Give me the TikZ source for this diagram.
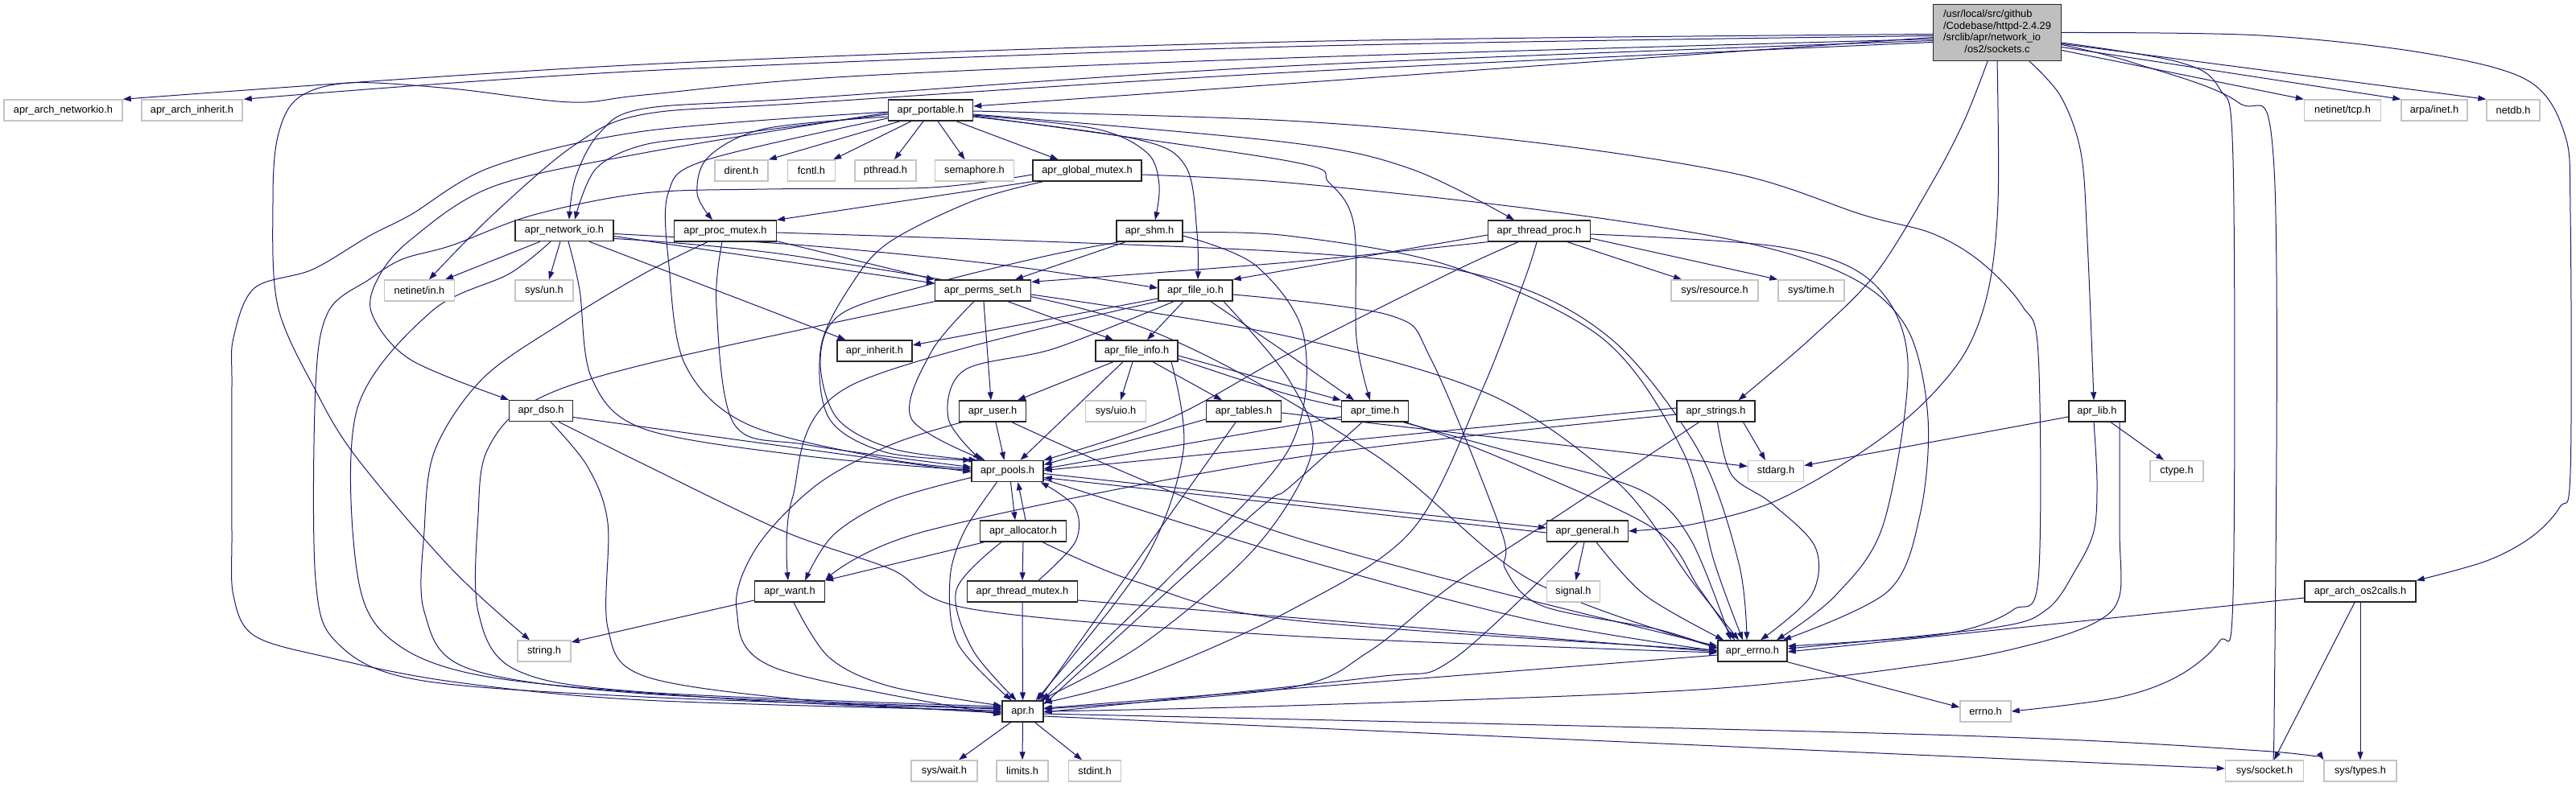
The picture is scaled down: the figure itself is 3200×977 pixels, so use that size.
\documentclass[tikz,border=0pt]{standalone}
\usepackage{fontspec}
\setmainfont{Liberation Sans}
\usetikzlibrary{arrows.meta}
\definecolor{edgec}{HTML}{191970}
\definecolor{sysb}{HTML}{C4C4C4}
\definecolor{mainf}{HTML}{BFBFBF}
\pgfdeclarelayer{bglayer}
\pgfdeclarelayer{edgelayer}
\pgfsetlayers{bglayer,edgelayer,main}
\tikzset{
  box/.style={rectangle, fill=white, line width=1.4pt, minimum height=26, inner sep=0pt, font=\fontsize{12.8}{14.7}\selectfont, text=black},
  hdr/.style={box, draw=black!85},
  sys/.style={box, draw=sysb},
  edge/.style={draw=edgec, line width=1pt, -{Triangle[length=10pt,width=7pt]}},
  sm/.style={smooth, tension=0.55},
}
\begin{document}
\begin{tikzpicture}[x=1pt,y=-1pt]
\begin{pgfonlayer}{bglayer}
\fill[white] (0,0) rectangle (3200,977);
\end{pgfonlayer}
\useasboundingbox (0,0) rectangle (3200,977);

\node[box, draw=black!85, fill=mainf, minimum width=159, minimum height=70] (main) at (2481,40.5) {\begin{tabular}{@{}l@{}}/usr/local/src/github\\/Codebase/httpd-2.4.29\\/srclib/apr/network\_io\\\multicolumn{1}{@{}c@{}}{/os2/sockets.c}\end{tabular}};
\node[sys, minimum width=147] (archnet) at (78.5,137) {apr\_arch\_networkio.h};
\node[sys, minimum width=125] (archinh) at (238.5,137) {apr\_arch\_inherit.h};
\node[hdr, minimum width=105] (portable) at (1156,137) {apr\_portable.h};
\node[sys, minimum width=95] (tcp) at (2910,137) {netinet/tcp.h};
\node[sys, minimum width=82] (arpa) at (3024,137) {arpa/inet.h};
\node[sys, minimum width=66] (netdb) at (3122,137) {netdb.h};
\node[sys, minimum width=66] (dirent) at (921,212) {dirent.h};
\node[sys, minimum width=59] (fcntl) at (1008,212) {fcntl.h};
\node[sys, minimum width=76] (pthread) at (1100,212) {pthread.h};
\node[sys, minimum width=97.5] (semaphore) at (1210.5,212) {semaphore.h};
\node[hdr, minimum width=135] (gm) at (1350.5,212) {apr\_global\_mutex.h};
\node[hdr, minimum width=122] (nio) at (701,286.5) {apr\_network\_io.h};
\node[hdr, minimum width=126.5] (pm) at (901,287) {apr\_proc\_mutex.h};
\node[hdr, minimum width=82] (shm) at (1428,287) {apr\_shm.h};
\node[hdr, minimum width=126.5] (tp) at (1912,287) {apr\_thread\_proc.h};
\node[sys, minimum width=87] (netinetin) at (521,361) {netinet/in.h};
\node[sys, minimum width=72] (sysun) at (676,361) {sys/un.h};
\node[hdr, minimum width=119] (perms) at (1221,361) {apr\_perms\_set.h};
\node[hdr, minimum width=92] (fio) at (1485,361) {apr\_file\_io.h};
\node[sys, minimum width=108] (sysres) at (2130,361) {sys/resource.h};
\node[sys, minimum width=82] (systime) at (2250,361) {sys/time.h};
\node[hdr, minimum width=93] (inherit) at (1086.5,436) {apr\_inherit.h};
\node[hdr, minimum width=102] (fi) at (1412,436) {apr\_file\_info.h};
\node[hdr, minimum width=78.5] (dso) at (672,510.5) {apr\_dso.h};
\node[hdr, minimum width=83] (user) at (1233,511) {apr\_user.h};
\node[sys, minimum width=74.5] (sysuio) at (1386,511) {sys/uio.h};
\node[hdr, minimum width=93] (tables) at (1545,511) {apr\_tables.h};
\node[hdr, minimum width=83] (time) at (1708,511) {apr\_time.h};
\node[hdr, minimum width=97] (strings) at (2131.5,511) {apr\_strings.h};
\node[hdr, minimum width=70] (lib) at (2605,511) {apr\_lib.h};
\node[hdr, minimum width=89] (pools) at (1251.5,585.5) {apr\_pools.h};
\node[sys, minimum width=69] (stdarg) at (2206,585.5) {stdarg.h};
\node[sys, minimum width=66] (ctype) at (2704,585.5) {ctype.h};
\node[hdr, minimum width=107] (alloc) at (1271,660) {apr\_allocator.h};
\node[hdr, minimum width=100.5] (general) at (1972,660) {apr\_general.h};
\node[hdr, minimum width=87] (want) at (981,735) {apr\_want.h};
\node[hdr, minimum width=137] (tm) at (1270,735) {apr\_thread\_mutex.h};
\node[sys, minimum width=66] (signal) at (1954.5,735) {signal.h};
\node[hdr, minimum width=138] (os2) at (2932,735) {apr\_arch\_os2calls.h};
\node[sys, minimum width=66] (string) at (676,809) {string.h};
\node[hdr, minimum width=86] (errno) at (2177,809) {apr\_errno.h};
\node[hdr, minimum width=51] (aprh) at (1270.5,884) {apr.h};
\node[sys, minimum width=63] (errnoh) at (2466.5,884) {errno.h};
\node[sys, minimum width=82] (syswait) at (1173,958) {sys/wait.h};
\node[sys, minimum width=64] (limits) at (1270,958) {limits.h};
\node[sys, minimum width=65] (stdint) at (1360,958) {stdint.h};
\node[sys, minimum width=97] (syssocket) at (2813,958) {sys/socket.h};
\node[sys, minimum width=90] (systypes) at (2932,958) {sys/types.h};

\begin{pgfonlayer}{edgelayer}
% main
\draw[edge] plot[sm] coordinates {([yshift=-2]main.west) (1600,52) (800,80) (archnet.north east)};
\draw[edge] plot[sm] coordinates {([yshift=-4]main.west) (1600,58) (800,88) ([xshift=1]archinh.north east)};
\draw[edge] ([yshift=-6]main.west) -- ([yshift=5]portable.east);
\draw[edge] plot[sm] coordinates {([yshift=-8]main.west) (1600,72) (1055,95) (800,118) (709,127) (560,110) (434,103) (370,122) (345,170) (339,250) (345,380) (393,487) (444,570) (561,707) ([xshift=-18]string.north)};
\draw[edge] plot[sm] coordinates {([yshift=-10]main.west) (1600,82) (1000,122) (800,135) (745,165) (715,220) ([xshift=6]nio.north)};
\draw[edge] plot[sm] coordinates {([yshift=-12]main.west) (1600,90) (1000,128) (800,142) (714,180) (612,267) ([xshift=12]netinetin.north)};
\draw[edge] plot[sm] coordinates {([xshift=-12]main.south) (2440,150) (2400,227) (2330,340) (2250,420) ([xshift=28]strings.north)};
\draw[edge] plot[sm] coordinates {(main.south) (2482,250) (2470,360) (2440,440) (2380,510) (2300,570) (2200,625) (2100,652) (general.east)};
\draw[edge] plot[sm] coordinates {([xshift=40]main.south) (2560,120) (2585,190) (2593,300) ([xshift=-4]lib.north)};
\draw[edge] plot[sm] coordinates {([yshift=-12.5]main.east) (2706,77) (2757,110) (2774,200) (2774,740) (2757,797) (2706,840) (2630,867) (errnoh.east)};
\draw[edge] plot[sm] coordinates {([yshift=-15]main.east) (2650,78) (2780,127) (2825,210) (2825,900) ([xshift=5]syssocket.north)};
\draw[edge] ([yshift=-22]main.east) -- (tcp.north west);
\draw[edge] ([yshift=-18]main.east) -- (arpa.north west);
\draw[edge] ([yshift=-14]main.east) -- (netdb.north west);
\draw[edge] plot[sm] coordinates {(main.east) (2808,44) (3012,66) (3140,100) (3186,167) (3193,267) (3193,587) (3180,630) (3145,667) (3089,697) (os2.north east)};
% portable
\draw[edge] ([xshift=-38]portable.south) -- (dirent.north east);
\draw[edge] ([xshift=-24]portable.south) -- ([xshift=27]fcntl.north);
\draw[edge] ([xshift=-9]portable.south) -- ([xshift=11]pthread.north);
\draw[edge] ([xshift=9]portable.south) -- ([xshift=-12]semaphore.north);
\draw[edge] ([xshift=32]portable.south) -- ([xshift=-36]gm.north);
\draw[edge] plot[sm] coordinates {([yshift=-6]portable.east) (1361,160) (1425,190) (1440,230) ([xshift=7]shm.north)};
\draw[edge] plot[sm] coordinates {([yshift=-8]portable.east) (1412,173) (1473,207) (1487,290) ([xshift=3]fio.north)};
\draw[edge] plot[sm] coordinates {([yshift=-5]portable.east) (1600,177) (1753,210) ([xshift=-31]tp.north)};
\draw[edge] plot[sm] coordinates {([yshift=-7]portable.east) (1600,200) (1651,227) (1682,280) (1685,420) ([xshift=-6]time.north)};
\draw[edge] plot[sm] coordinates {([yshift=-1]portable.east) (1600,150) (1906,177) (2161,217) (2314,267) (2400,290) (2460,325) (2512,380) (2532,440) (2532,720) (2502,757) (2451,780) (2380,792) ([yshift=6]errno.east)};
\draw[edge] plot[sm] coordinates {([yshift=-5]portable.west) (900,168) (800,180) (740,210) ([xshift=13]nio.north)};
\draw[edge] plot[sm] coordinates {([yshift=-8]portable.west) (950,160) (880,195) (866,240) ([xshift=-16]pm.north)};
\draw[edge] plot[sm] coordinates {([yshift=-3]portable.west) (800,190) (612,232) (510,298) (470,345) (462,390) (510,447) (dso.north west)};
\draw[edge] plot[sm] coordinates {([yshift=-10]portable.west) (877,199) (830,240) (831,330) (851,453) (928,527) (1100,570) ([yshift=3]pools.west)};
\draw[edge] plot[sm] coordinates {([yshift=-2]portable.west) (800,163) (612,207) (510,267) (459,293) (388,335) (316,358) (290,420) (288,480) (288,660) (290,740) (316,790) (408,817) (561,847) (800,870) ([yshift=1]aprh.west)};
% global mutex
\draw[edge] (gm.south west) -- (pm.north east);
\draw[edge] plot[sm] coordinates {([xshift=-55]gm.south) (1208,250) (1106,300) (1060,350) (1020,430) (1030,520) (1100,562) (pools.north west)};
\draw[edge] plot[sm] coordinates {([yshift=-5]gm.west) (1157,233) (953,235) (800,240) (663,267) (561,305) (500,322) (459,347) (408,387) (392,480) (392,720) (420,800) (520,845) (800,866) ([yshift=3]aprh.west)};
\draw[edge] plot[sm] coordinates {([yshift=-5]gm.east) (1600,227) (1906,260) (2161,300) (2300,345) (2370,410) (2395,520) (2385,640) (2345,735) ([xshift=38]errno.north)};
% proc mutex
\draw[edge] ([yshift=1]pm.south east) -- (perms.north west);
\draw[edge] plot[sm] coordinates {([xshift=-4]pm.south) (890,380) (912,527) (1004,553) ([yshift=5]pools.west)};
\draw[edge] plot[sm] coordinates {([xshift=-22]pm.south) (800,340) (700,400) (600,470) (540,560) (527,660) (527,760) (580,830) (800,862) ([yshift=4]aprh.west)};
\draw[edge] plot[sm] coordinates {([yshift=-2]pm.east) (1600,313) (1850,345) (2000,420) (2110,560) (2160,700) ([xshift=-7]errno.north)};
% shm
\draw[edge] ([xshift=-30]shm.south) -- ([xshift=40]perms.north);
\draw[edge] plot[sm] coordinates {([xshift=-38]shm.south) (1300,318) (1157,353) (1045,390) (1019,447) (1040,520) (1110,558) ([xshift=-38]pools.north)};
\draw[edge] plot[sm] coordinates {([yshift=-6]shm.east) (1560,330) (1620,420) (1600,560) (1450,720) ([xshift=-2]aprh.north east)};
\draw[edge] plot[sm] coordinates {([yshift=-2]shm.east) (1600,293) (1800,330) (1990,420) (2090,560) (2130,700) ([xshift=-12]errno.north)};
% thread proc
\draw[edge] ([yshift=-5]tp.west) -- (fio.north east);
\draw[edge] plot[sm] coordinates {(tp.south west) (1600,326) ([yshift=-3]perms.north east)};
\draw[edge] plot[sm] coordinates {([xshift=-26]tp.south) (1800,340) (1600,440) (1453,520) (pools.north east)};
\draw[edge] plot[sm] coordinates {([xshift=-3]tp.south) (1893,350) (1840,487) (1753,660) (1600,760) (1420,840) ([yshift=-3]aprh.north east)};
\draw[edge] plot[sm] coordinates {([yshift=-4]tp.east) (2212,307) (2325,350) (2370,450) (2340,650) (2280,740) ([xshift=30]errno.north)};
\draw[edge] ([xshift=35]tp.south) -- ([xshift=-41]sysres.north);
\draw[edge] ([yshift=-9]tp.east) -- (systime.north west);
% network io
\draw[edge] ([xshift=-30]nio.south) -- ([xshift=32]netinetin.north);
\draw[edge] ([xshift=-5]nio.south) -- ([xshift=6]sysun.north);
\draw[edge] ([xshift=31]nio.south) -- ([xshift=-36]inherit.north);
\draw[edge] ([yshift=-7]nio.east) -- ([yshift=9]perms.west);
\draw[edge] plot[sm] coordinates {([yshift=-4]nio.east) (1000,305) (1250,330) ([yshift=3]fio.west)};
\draw[edge] plot[sm] coordinates {([xshift=5]nio.south) (720,360) (735,470) (800,533) (1004,567) ([yshift=1]pools.west)};
\draw[edge] plot[sm] coordinates {([xshift=-17]nio.south) (633,340) (536,387) (444,507) (442,700) (480,790) (600,840) (900,868) ([yshift=-1]aprh.west)};
\draw[edge] plot[sm] coordinates {([yshift=-10]nio.east) (1000,320) (1400,400) (1700,560) (1900,720) ([yshift=4]errno.west)};
% file io
\draw[edge] ([xshift=-15]fio.south) -- ([xshift=13]fi.north);
\draw[edge] ([yshift=-10]fio.west) -- ([yshift=7]inherit.east);
\draw[edge] plot[sm] coordinates {([xshift=19]fio.south) (1600,440) ([xshift=-26]time.north)};
\draw[edge] plot[sm] coordinates {([xshift=-27]fio.south) (1310,433) (1198,460) (1178,520) ([xshift=-33]pools.north)};
\draw[edge] plot[sm] coordinates {(fio.south west) (1055,480) (984,620) ([xshift=-2]want.north)};
\draw[edge] plot[sm] coordinates {([xshift=35]fio.south) (1600,470) (1630,560) (1560,680) (1420,800) ([xshift=-5]aprh.north east)};
\draw[edge] plot[sm] coordinates {([yshift=-5]fio.east) (1727,392) (1778,447) (1865,660) (1870,707) (1916,753) (2059,782) ([yshift=3]errno.west)};
% file info
\draw[edge] ([xshift=-29]fi.south) -- ([xshift=31]user.north);
\draw[edge] ([xshift=-5]fi.south) -- ([xshift=6]sysuio.north);
\draw[edge] ([xshift=20]fi.south) -- ([xshift=-27]tables.north);
\draw[edge] ([yshift=-6]fi.east) -- (time.north west);
\draw[edge] ([xshift=-17]fi.south) -- ([xshift=16]pools.north);
\draw[edge] plot[sm] coordinates {([xshift=43]fi.south) (1470,560) (1420,700) ([xshift=-10]aprh.north east)};
\draw[edge] plot[sm] coordinates {([yshift=-10]fi.east) (1600,490) (1753,527) (1906,587) (2059,660) (2110,730) ([xshift=-22]errno.north)};
% perms set
\draw[edge] ([xshift=1]perms.south) -- ([xshift=-2]user.north);
\draw[edge] ([xshift=31]perms.south) -- ([xshift=-29]fi.north);
\draw[edge] plot[sm] coordinates {([xshift=-11]perms.south) (1157,437) (1132,520) ([xshift=-28]pools.north)};
\draw[edge] plot[sm] coordinates {(perms.south west) (800,453) (660,500) (605,560) (594,640) (594,760) (640,832) (800,860) ([yshift=6]aprh.west)};
\draw[edge] plot[sm] coordinates {([yshift=-5]perms.east) (1600,418) (1850,490) (2010,600) (2100,720) ([xshift=-17]errno.north)};
% user
\draw[edge] ([xshift=4]user.south) -- ([xshift=-4]pools.north);
\draw[edge] plot[sm] coordinates {([xshift=-38]user.south) (1106,553) (1014,603) (940,680) (915,757) (963,830) ([yshift=-4]aprh.west)};
\draw[edge] plot[sm] coordinates {([xshift=24]user.south) (1600,665) ([yshift=6]errno.west)};
% tables
\draw[edge] ([yshift=-10]tables.west) -- ([yshift=8]pools.east);
\draw[edge] ([xshift=-10]tables.south) -- ([xshift=-7]aprh.north east);
\draw[edge] ([yshift=-2]tables.east) -- ([yshift=6]stdarg.west);
% time
\draw[edge] ([yshift=-7]time.west) -- ([yshift=3]pools.east);
\draw[edge] plot[sm] coordinates {([xshift=-16]time.south) (1600,607) (1555,640) ([yshift=-5]aprh.north east)};
\draw[edge] plot[sm] coordinates {([xshift=35]time.south) (1906,570) (2040,610) (2100,670) ([xshift=-27]errno.north)};
% strings
\draw[edge] ([xshift=34]strings.south) -- ([xshift=-13]stdarg.north);
\draw[edge] plot[sm] coordinates {([xshift=2]strings.south) (2151,590) (2200,625) (2255,680) (2250,740) ([xshift=10]errno.north)};
\draw[edge] ([yshift=4]strings.west) -- ([yshift=1]pools.east);
\draw[edge] plot[sm] coordinates {([yshift=-4]strings.west) (1600,570) (1150,660) (want.north east)};
\draw[edge] plot[sm] coordinates {([xshift=-21]strings.south) (1906,660) (1800,730) (1700,810) (1600,855) ([yshift=3]aprh.east)};
% lib
\draw[edge] ([xshift=17]lib.south) -- ([xshift=-16]ctype.north);
\draw[edge] ([yshift=-7]lib.west) -- ([yshift=7]stdarg.east);
\draw[edge] plot[sm] coordinates {([xshift=-4]lib.south) (2605,600) (2601,660) (2579,707) (2543,757) (2476,780) ([yshift=3]errno.east)};
\draw[edge] plot[sm] coordinates {([xshift=28]lib.south) (2633,660) (2633,740) (2604,773) (2527,800) (2400,825) (2110,857) (1600,877) (aprh.east)};
% dso
\draw[edge] ([yshift=-8]dso.east) -- ([yshift=-1]pools.west);
\draw[edge] plot[sm] coordinates {([xshift=12]dso.south) (730,580) (755,650) (755,780) (800,840) (1000,870) ([yshift=-2]aprh.west)};
\draw[edge] plot[sm] coordinates {([xshift=22]dso.south) (800,577) (973,660) (1106,707) (1208,757) (1600,790) ([yshift=-2]errno.west)};
% pools
\draw[edge] ([xshift=4]pools.south) -- ([xshift=-10]alloc.north);
\draw[edge] ([yshift=-3]pools.east) -- ([yshift=4]general.west);
\draw[edge] plot[sm] coordinates {([yshift=-8]pools.west) (1106,622) (1035,665) ([xshift=19]want.north)};
\draw[edge] plot[sm] coordinates {([xshift=-13]pools.south) (1198,660) (1180,720) (1190,800) ([xshift=-14]aprh.north)};
\draw[edge] plot[sm] coordinates {([yshift=-10]pools.east) (1600,690) (1900,770) (errno.west)};
% general
\draw[edge] ([yshift=-2]general.west) -- ([yshift=-8]pools.east);
\draw[edge] ([xshift=-4]general.south) -- ([xshift=3]signal.north);
\draw[edge] plot[sm] coordinates {([xshift=11]general.south) (2044,740) ([xshift=-36]errno.north)};
\draw[edge] plot[sm] coordinates {([xshift=-12]general.south) (1804,820) (1702,842) ([yshift=-1]aprh.east)};
% allocator
\draw[edge] ([xshift=3]alloc.north) -- ([xshift=13]pools.south);
\draw[edge] (alloc.south) -- (tm.north);
\draw[edge] ([xshift=6]alloc.south west) -- (want.north east);
\draw[edge] plot[sm] coordinates {([xshift=-27]alloc.south) (1188,733) (1208,807) ([xshift=-8]aprh.north)};
\draw[edge] plot[sm] coordinates {([xshift=24]alloc.south) (1412,723) (1600,770) ([yshift=1]errno.west)};
% thread mutex
\draw[edge] plot[sm] coordinates {([xshift=20]tm.north) (1336,673) (1335,630) ([xshift=-4]pools.south east)};
\draw[edge] (tm.south) -- (aprh.north);
\draw[edge] ([yshift=-11]tm.east) -- ([yshift=-1]errno.west);
% want
\draw[edge] ([yshift=-11]want.west) -- ([yshift=11]string.east);
\draw[edge] plot[sm] coordinates {([xshift=5]want.south) (1030,817) (1106,853) ([yshift=7]aprh.west)};
% os2calls
\draw[edge] ([yshift=-8]os2.west) -- ([yshift=-1]errno.east);
\draw[edge] ([xshift=-7]os2.south) -- ([xshift=12]syssocket.north);
\draw[edge] (os2.south) -- (systypes.north);
% apr_errno
\draw[edge] ([yshift=-5]errno.west) -- ([yshift=4]aprh.east);
\draw[edge] (errno.south east) -- ([yshift=5]errnoh.west);
% apr.h
\draw[edge] ([xshift=-15]aprh.south) -- ([xshift=18]syswait.north);
\draw[edge] (aprh.south) -- (limits.north);
\draw[edge] ([xshift=15]aprh.south) -- ([xshift=-16]stdint.north);
\draw[edge] ([yshift=-6]aprh.east) -- ([yshift=3]syssocket.west);
\draw[edge] plot[sm] coordinates {([yshift=-3]aprh.east) (2400,913) (2808,933) (systypes.north west)};
\end{pgfonlayer}
\end{tikzpicture}
\end{document}
